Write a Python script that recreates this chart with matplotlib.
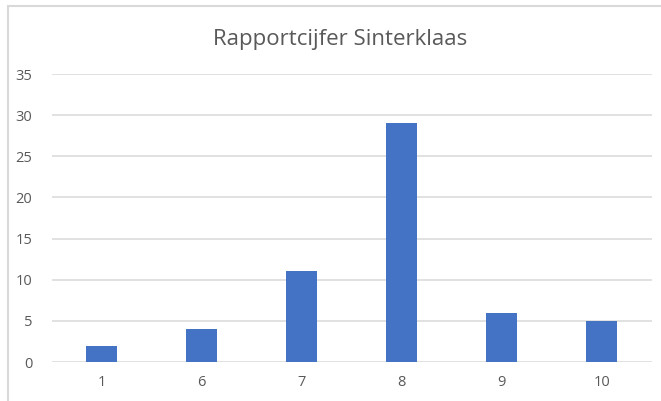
import matplotlib
matplotlib.use("Agg")
import matplotlib.pyplot as plt
from matplotlib.patches import Rectangle

categories = ["1", "6", "7", "8", "9", "10"]
values = [2, 4, 11, 29, 6, 5]
yticks = [0, 5, 10, 15, 20, 25, 30, 35]
title = "Rapportcijfer Sinterklaas"

plt.rcParams['font.family'] = ['Open Sans', 'DejaVu Sans']

W, H = 661, 401
fig = plt.figure(figsize=(W/100, H/100), dpi=100)
fig.patch.set_facecolor("white")

# chart area border (cropped on right/bottom)
fig.patches.append(Rectangle((7.5/W, -0.1), 1.2, (H-5.5)/H + 0.1, transform=fig.transFigure,
                             fill=False, edgecolor="#D9D9D9", linewidth=1.5, zorder=0))

left, right = 51.7/W, 651.7/W
bottom, top = (H-362)/H, (H-74)/H
ax = fig.add_axes([left, bottom, right-left, top-bottom])
x = range(len(categories))
ax.bar(x, values, width=0.31, color="#4472C4", zorder=3)
ax.set_xlim(-0.5, len(categories)-0.5)
ax.set_ylim(0, 35)
ax.set_yticks(yticks)
ax.set_xticks(list(x))
ax.set_xticklabels(categories)
for s in ax.spines.values():
    s.set_visible(False)
ax.grid(axis='y', color="#D9D9D9", linewidth=1.1, zorder=0)
ax.tick_params(axis='both', length=0, labelsize=10.5, labelcolor="#595959")
ax.tick_params(axis='y', pad=14)
ax.tick_params(axis='x', pad=9)
ax.set_facecolor("none")

fig.text(340/W, (H-40)/H, title, ha='center', va='center', fontsize=16, color="#595959")

fig.savefig("out.png", dpi=100)
